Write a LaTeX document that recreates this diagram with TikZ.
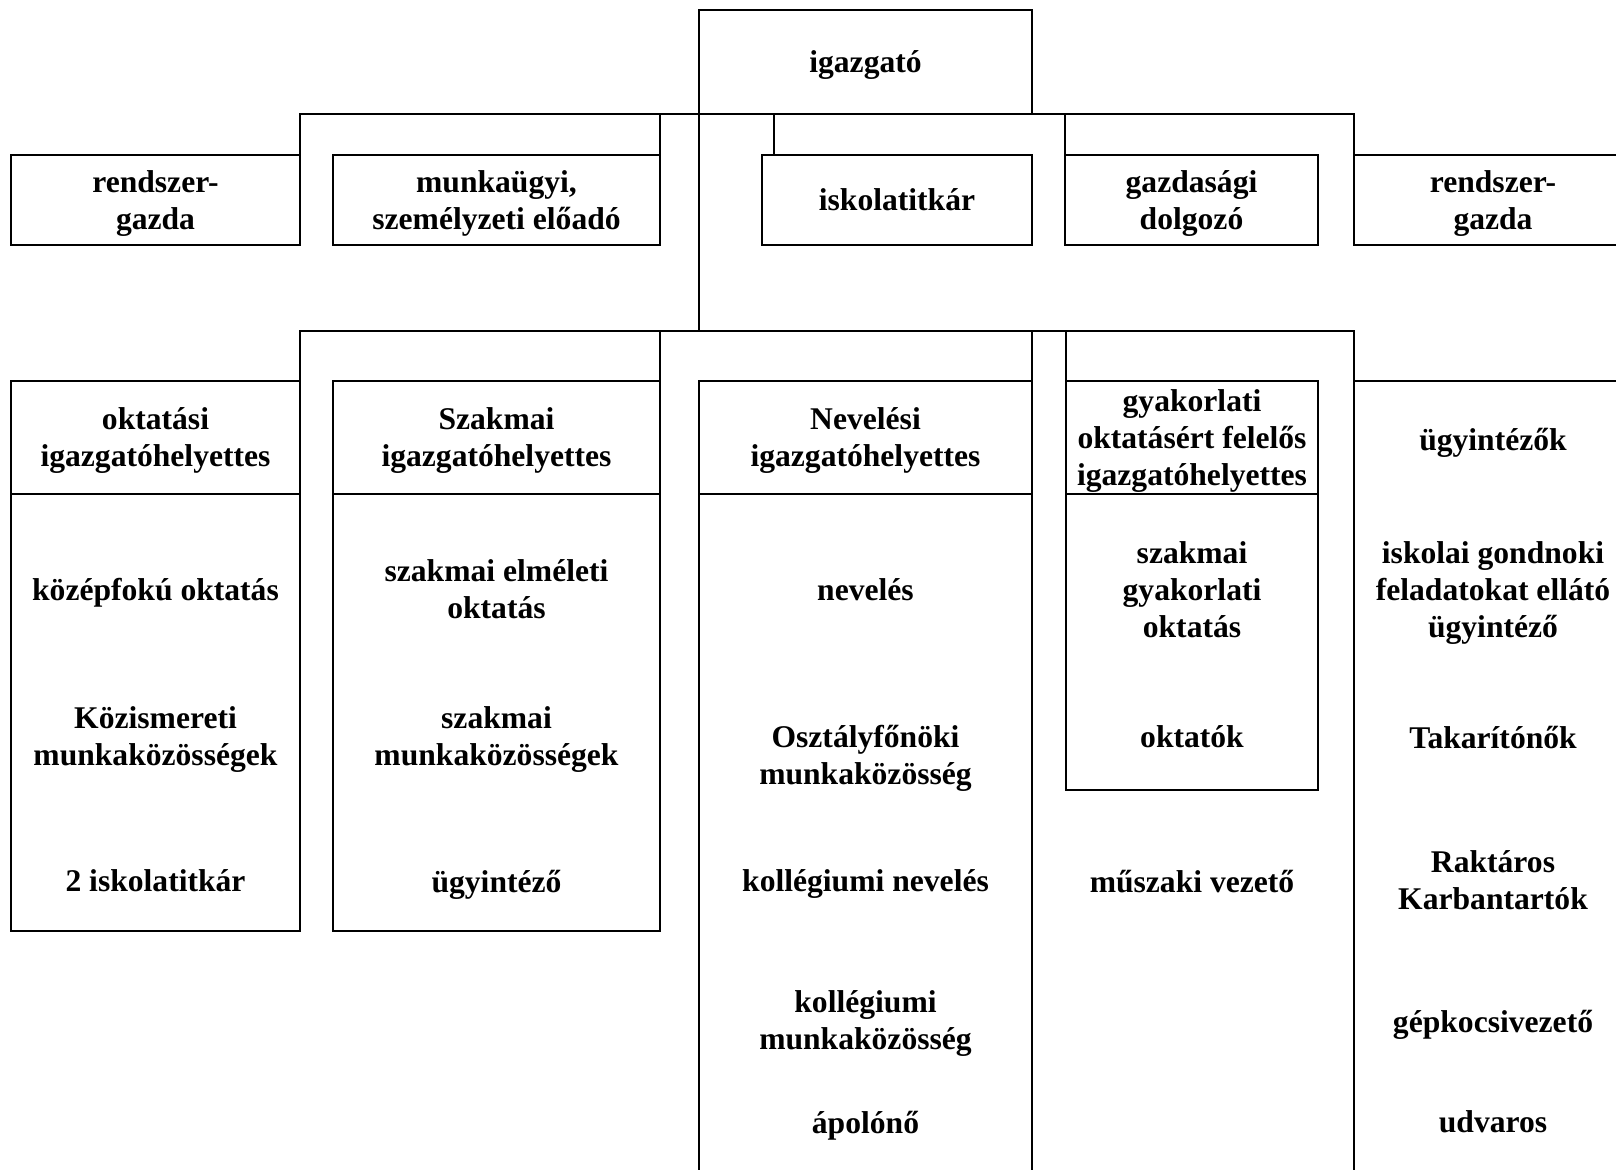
\documentclass[tikz,border=0pt]{standalone}
\usepackage{fontspec}
\setmainfont{Liberation Serif}
\usetikzlibrary{positioning}

\begin{document}
\begin{tikzpicture}[x=0.5pt,y=-0.5pt,
  box/.style={draw, line width=1.2pt, align=center, inner sep=0pt, outer sep=0pt},
  lbl/.style={align=center, inner sep=0pt},
  wire/.style={line width=1pt}]
\tikzstyle{every node}+=[font=\fontsize{15.8}{18.5}\selectfont\bfseries, text depth=0pt]
\clip (0,0) rectangle (1616,1170);

% vezeto
\node[box, minimum width=166.5pt, minimum height=52pt] (igazgato) at (865.5,62) {igazgató};

% felso sor
\node[box, minimum width=144.5pt, minimum height=45pt] (rsg1) at (155.5,200) {rendszer-\\gazda};
\node[box, minimum width=163.5pt, minimum height=45pt] (munkaugyi) at (496.5,200) {munkaügyi,\\személyzeti előadó};
\node[box, minimum width=135pt, minimum height=45pt] (titkar) at (897,200) {iskolatitkár};
\node[box, minimum width=126.5pt, minimum height=45pt] (gazd) at (1191.5,200) {gazdasági\\dolgozó};
\node[box, minimum width=139pt, minimum height=45pt] (rsg2) at (1493,200) {rendszer-\\gazda};

% helyettesek
\node[box, minimum width=144.5pt, minimum height=56.5pt] (okt) at (155.5,437.5) {oktatási\\igazgatóhelyettes};
\node[box, minimum width=163.5pt, minimum height=56.5pt] (szak) at (496.5,437.5) {Szakmai\\igazgatóhelyettes};
\node[box, minimum width=166.5pt, minimum height=56.5pt] (nev) at (865.5,437.5) {Nevelési\\igazgatóhelyettes};
\node[box, minimum width=126pt, minimum height=56.5pt] (gyak) at (1192,437.5) {gyakorlati\\oktatásért felelős\\igazgatóhelyettes};
\coordinate (ugycorner) at (1354,381);

% oszlopok
\node[box, minimum width=144.5pt, minimum height=218.5pt] (oktbody) at (155.5,712.5) {};
\node[box, minimum width=163.5pt, minimum height=218.5pt] (szakbody) at (496.5,712.5) {};
\node[box, minimum width=126pt, minimum height=148pt] (gyakbody) at (1192,642) {};
\draw[line width=1.2pt] (nev.south west) -- ++(0,720);
\draw[line width=1.2pt] (nev.south east) -- ++(0,720);
\draw[line width=1.2pt] (1354,1190) -- (ugycorner) -- (1640,381);

\node[lbl] (kozepfok) at (155.5,589.5) {középfokú oktatás};
\node[lbl] (kozism) at (155.5,736) {Közismereti\\munkaközösségek};
\node[lbl] (titkar2) at (155.5,881) {2 iskolatitkár};

\node[lbl] (szakelm) at (496.5,589.5) {szakmai elméleti\\oktatás};
\node[lbl] (szakmk) at (496.5,736) {szakmai\\munkaközösségek};
\node[lbl] (ugyint) at (496.5,881) {ügyintéző};

\node[lbl] (neveles) at (865.5,589.5) {nevelés};
\node[lbl] (osztfo) at (865.5,755) {Osztályfőnöki\\munkaközösség};
\node[lbl] (kollnev) at (865.5,881) {kollégiumi nevelés};
\node[lbl] (kollmk) at (865.5,1020) {kollégiumi\\munkaközösség};
\node[lbl] (apolono) at (865.5,1122) {ápolónő};

\node[lbl] (szakgyak) at (1192,589.5) {szakmai\\gyakorlati\\oktatás};
\node[lbl] (oktatok) at (1192,737) {oktatók};
\node[lbl] (muszaki) at (1192,881) {műszaki vezető};

\node[lbl] (ugy) at (1493,439) {ügyintézők};
\node[lbl] (gondnok) at (1493,589.5) {iskolai gondnoki\\feladatokat ellátó\\ügyintéző};
\node[lbl] (takar) at (1493,737) {Takarítónők};
\node[lbl] (raktar) at (1493,879.6) {Raktáros\\Karbantartók};
\node[lbl] (gepkocsi) at (1493,1021) {gépkocsivezető};
\node[lbl] (udvaros) at (1493,1122) {udvaros};

% vonalak
\draw[wire] (rsg1.north east) |- (igazgato.south) -| (rsg2.north west);
\draw[wire] (munkaugyi.north east) -- (munkaugyi.north east |- igazgato.south);
\coordinate (tdrop) at ([xshift=6pt]titkar.north west);
\draw[wire] (tdrop) -- (tdrop |- igazgato.south);
\draw[wire] (gazd.north west) -- (gazd.north west |- igazgato.south);
\coordinate (elag) at (699,331);
\draw[wire] (igazgato.south west) -- (elag);
\draw[wire] (okt.north east) |- (elag) -| (ugycorner);
\draw[wire] (szak.north east) -- (szak.north east |- elag);
\draw[wire] (nev.north east) -- (nev.north east |- elag);
\draw[wire] (gyak.north west) -- (gyak.north west |- elag);
\end{tikzpicture}
\end{document}
